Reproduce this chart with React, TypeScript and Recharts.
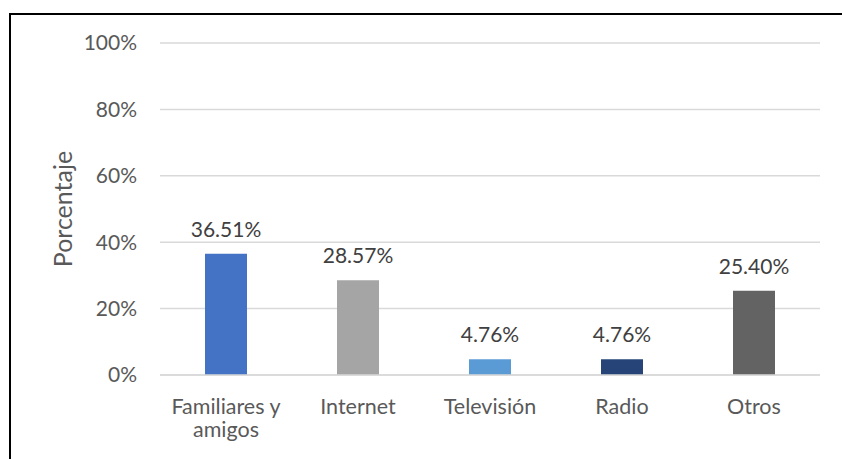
import React from 'react';
import { BarChart, Bar, XAxis, YAxis, CartesianGrid, Cell, LabelList } from 'recharts';

const categories = ['Familiares y amigos', 'Internet', 'Televisión', 'Radio', 'Otros'];
const values = [36.51, 28.57, 4.76, 4.76, 25.4];
const colors = ['#4472C4', '#A5A5A5', '#5B9BD5', '#264478', '#636363'];
const yTicks = [0, 20, 40, 60, 80, 100];
const yTitle = 'Porcentaje';

const data = categories.map((name, i) => ({ name, value: values[i] }));

const FONT = 'Lato, "Noto Sans", sans-serif';
const MAX_CHARS = 12;

function wrapWords(s: string): string[] {
  const words = s.split(' ');
  const lines: string[] = [];
  let cur = '';
  for (const w of words) {
    const next = cur ? `${cur} ${w}` : w;
    if (next.length > MAX_CHARS && cur) {
      lines.push(cur);
      cur = w;
    } else {
      cur = next;
    }
  }
  if (cur) lines.push(cur);
  return lines;
}

const CategoryTick = (props: any) => {
  const { x, y, payload } = props;
  const lines = wrapWords(String(payload.value));
  return (
    <text
      x={x}
      y={y}
      textAnchor="middle"
      fill="#595959"
      fontSize={21.5}
      fontFamily={FONT}
    >
      {lines.map((l, i) => (
        <tspan key={i} x={x} dy={i === 0 ? 17 : 23}>
          {l}
        </tspan>
      ))}
    </text>
  );
};

const YTitle = (props: any) => {
  const vb = props.viewBox || {};
  const cx = vb.x + 12;
  const cy = vb.y + vb.height / 2;
  return (
    <text
      x={cx}
      y={cy}
      transform={`rotate(-90, ${cx}, ${cy})`}
      textAnchor="middle"
      dominantBaseline="central"
      fill="#595959"
      fontSize={25}
      fontFamily={FONT}
    >
      {yTitle}
    </text>
  );
};

export default function App() {
  return (
    <div style={{ position: 'fixed', left: 0, top: 0, width: 842, height: 459, overflow: 'hidden', background: '#fff' }}>
      <div
        style={{
          position: 'absolute',
          left: 9,
          top: 13,
          width: 860,
          height: 480,
          border: '2px solid #000',
          boxSizing: 'border-box',
        }}
      />
      <div style={{ position: 'absolute', left: 0, top: 0 }}>
        <BarChart width={842} height={459} data={data} margin={{ top: 43, right: 22, bottom: 24, left: 50 }}>
          <CartesianGrid vertical={false} stroke="#D9D9D9" strokeWidth={1.5} />
          <XAxis
            dataKey="name"
            height={60}
            tickLine={false}
            axisLine={{ stroke: '#D9D9D9', strokeWidth: 1.5 }}
            tick={<CategoryTick />}
            tickMargin={16}
            interval={0}
          />
          <YAxis
            width={110}
            domain={[0, 100]}
            ticks={yTicks}
            tickFormatter={(v: number) => `${v}%`}
            tickLine={false}
            axisLine={false}
            tickMargin={17}
            tick={{ fill: '#595959', fontSize: 21, fontFamily: FONT }}
            label={<YTitle />}
          />
          <Bar dataKey="value" barSize={42} isAnimationActive={false}>
            {data.map((d, i) => (
              <Cell key={d.name} fill={colors[i]} />
            ))}
            <LabelList
              dataKey="value"
              position="top"
              offset={17}
              formatter={(v: any) => `${Number(v).toFixed(2)}%`}
              fill="#404040"
              fontSize={21}
              fontFamily={FONT}
            />
          </Bar>
        </BarChart>
      </div>
    </div>
  );
}
